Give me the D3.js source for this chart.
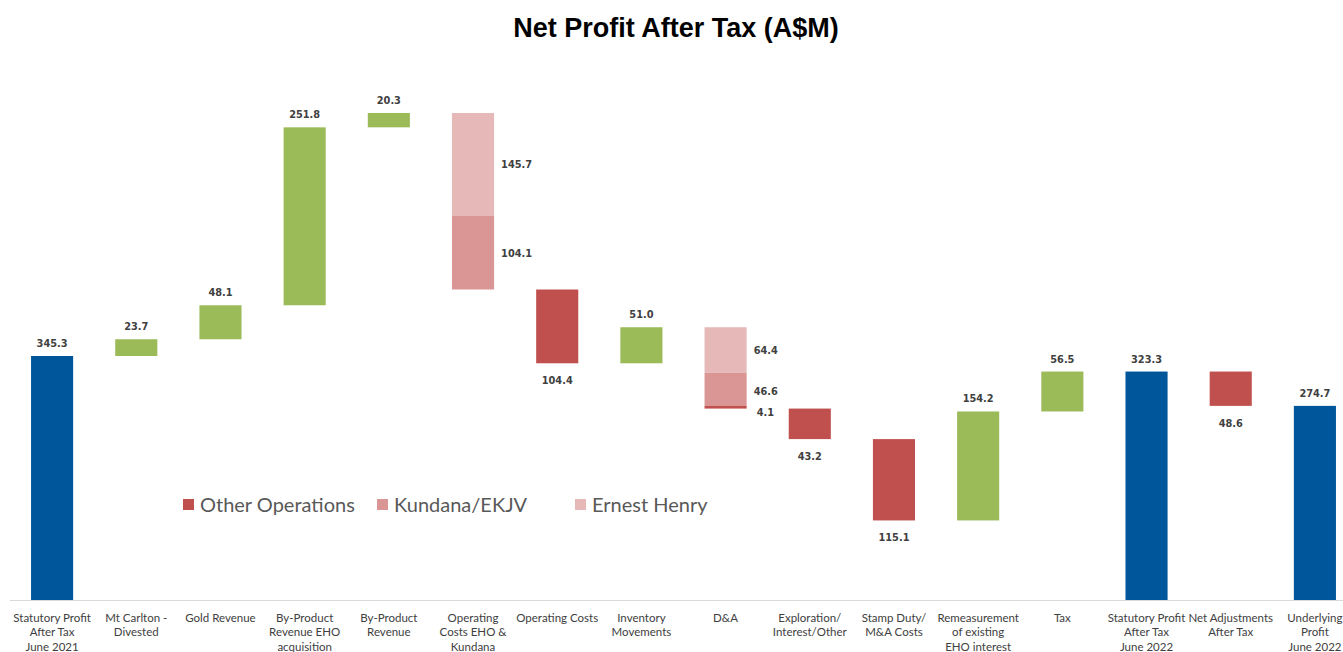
<!DOCTYPE html>
<html>
<head>
<meta charset="utf-8">
<script src="https://cdn.jsdelivr.net/npm/d3@7"></script>
<style>
  body { margin: 0; background: #fff; }
  .title { font-family: "Liberation Sans", Arial, sans-serif; font-weight: bold; font-size: 27px; fill: #000; }
  .xLb { font-family: Lato, "Open Sans", sans-serif; font-size: 11.5px; fill: #404040; }
  .valLb { font-family: "DejaVu Sans", Verdana, sans-serif; font-weight: bold; font-size: 9.8px; fill: #404040; }
  .legLb { font-family: Lato, "Open Sans", sans-serif; font-size: 20px; fill: #595959; }
</style>
</head>
<body>
<div id="main"></div>
<script>
const ctx = {
    w: 1343,
    h: 652,
    baseY: 600,
    COLORS: {total: "#00569A", up: "#9BBB59", other: "#C0504D", kundana: "#D99694", eh: "#E6B9B8"},
};

// category labels (multi-line)
const categories = [
    ["Statutory Profit", "After Tax", "June 2021"],
    ["Mt Carlton -", "Divested"],
    ["Gold Revenue"],
    ["By-Product", "Revenue EHO", "acquisition"],
    ["By-Product", "Revenue"],
    ["Operating", "Costs EHO &", "Kundana"],
    ["Operating Costs"],
    ["Inventory", "Movements"],
    ["D&A"],
    ["Exploration/", "Interest/Other"],
    ["Stamp Duty/", "M&A Costs"],
    ["Remeasurement", "of existing", "EHO interest"],
    ["Tax"],
    ["Statutory Profit", "After Tax", "June 2022"],
    ["Net Adjustments", "After Tax"],
    ["Underlying", "Profit", "June 2022"],
];
// which steps are totals (bars from zero)
const isTotal = [true, false, false, false, false, false, false, false, false, false, false, false, false, true, false, true];
// step values per series
const otherOps    = [345.3, 23.7, 48.1, 251.8, 20.3, 0, -104.4, 51.0, -4.1, -43.2, -115.1, 154.2, 56.5, 323.3, -48.6, 274.7];
const kundana     = [0, 0, 0, 0, 0, -104.1, 0, 0, -46.6, 0, 0, 0, 0, 0, 0, 0];
const ernestHenry = [0, 0, 0, 0, 0, -145.7, 0, 0, -64.4, 0, 0, 0, 0, 0, 0, 0];
const legendItems = ["Other Operations", "Kundana/EKJV", "Ernest Henry"];

function buildSteps(){
    // compute floating segments for the waterfall
    let running = 0;
    let steps = [];
    categories.forEach((c, i) => {
        let segs = [];
        if (isTotal[i]) {
            running = otherOps[i];
            segs.push({lo: 0, hi: running, v: otherOps[i], color: ctx.COLORS.total});
        } else {
            // order from top: Ernest Henry, Kundana, Other
            [[ernestHenry[i], ctx.COLORS.eh], [kundana[i], ctx.COLORS.kundana], [otherOps[i], null]]
              .forEach(([v, col]) => {
                if (v === 0) return;
                let start = running;
                running += v;
                segs.push({lo: Math.min(start, running), hi: Math.max(start, running), v: v,
                           color: col || (v > 0 ? ctx.COLORS.up : ctx.COLORS.other)});
            });
        }
        steps.push({i: i, segs: segs});
    });
    return steps;
}

function createViz(){
    let svgEl = d3.select("#main").append("svg")
        .attr("width", ctx.w).attr("height", ctx.h);

    ctx.xScale = d3.scaleBand().domain(d3.range(categories.length))
                   .range([10, 1357]).paddingInner(0.5).paddingOuter(0.25);
    ctx.yScale = d3.scaleLinear().domain([0, 345.3]).range([ctx.baseY, 356]);

    // title
    svgEl.append("text").classed("title", true)
         .attr("x", 676).attr("y", 37).attr("text-anchor", "middle")
         .text("Net Profit After Tax (A$M)");

    // axis line
    svgEl.append("line")
         .attr("x1", 10).attr("x2", ctx.w).attr("y1", ctx.baseY + 0.5).attr("y2", ctx.baseY + 0.5)
         .style("stroke", "#D9D9D9");

    let steps = buildSteps();
    let bw = ctx.xScale.bandwidth();
    let gBars = svgEl.append("g");
    steps.forEach((s) => {
        let x = ctx.xScale(s.i);
        gBars.selectAll(null).data(s.segs).enter().append("rect")
             .attr("x", x).attr("width", bw)
             .attr("y", (d) => ctx.yScale(d.hi))
             .attr("height", (d) => ctx.yScale(d.lo) - ctx.yScale(d.hi))
             .attr("fill", (d) => d.color);
        let lb = gBars.selectAll(null).data(s.segs).enter().append("text")
             .classed("valLb", true)
             .text((d) => Math.abs(d.v).toFixed(1));
        if (s.segs.length > 1) {
            // stacked: labels on the right of each segment
            lb.attr("text-anchor", "start")
              .attr("x", (d) => x + bw + ((ctx.yScale(d.lo) - ctx.yScale(d.hi)) < 8 ? 10 : 7))
              .attr("y", (d) => {
                  let hpx = ctx.yScale(d.lo) - ctx.yScale(d.hi);
                  if (hpx < 8) return ctx.yScale(d.lo) + 7;
                  return (ctx.yScale(d.lo) + ctx.yScale(d.hi)) / 2 + (hpx < 40 ? 6 : 4);
              });
        } else {
            lb.attr("text-anchor", "middle")
              .attr("x", x + bw / 2)
              .attr("y", (d) => (isTotal[s.i] || d.v > 0) ? ctx.yScale(d.hi) - 9 : ctx.yScale(d.lo) + 21);
        }
    });

    // category labels
    let gX = svgEl.append("g");
    categories.forEach((lines, i) => {
        let t = gX.append("text").classed("xLb", true)
                  .attr("text-anchor", "middle")
                  .attr("x", ctx.xScale(i) + bw / 2).attr("y", 621.5);
        lines.forEach((ln, k) => {
            t.append("tspan").attr("x", ctx.xScale(i) + bw / 2).attr("dy", k === 0 ? 0 : 14.7).text(ln);
        });
    });

    // legend
    let legX = [183, 377, 575];
    let legCol = [ctx.COLORS.other, ctx.COLORS.kundana, ctx.COLORS.eh];
    let gL = svgEl.append("g");
    legendItems.forEach((name, i) => {
        gL.append("rect").attr("x", legX[i]).attr("y", 499).attr("width", 11).attr("height", 11)
          .attr("fill", legCol[i]);
        gL.append("text").classed("legLb", true)
          .attr("x", legX[i] + 17).attr("y", 511.5).text(name);
    });
}

createViz();
</script>
</body>
</html>
